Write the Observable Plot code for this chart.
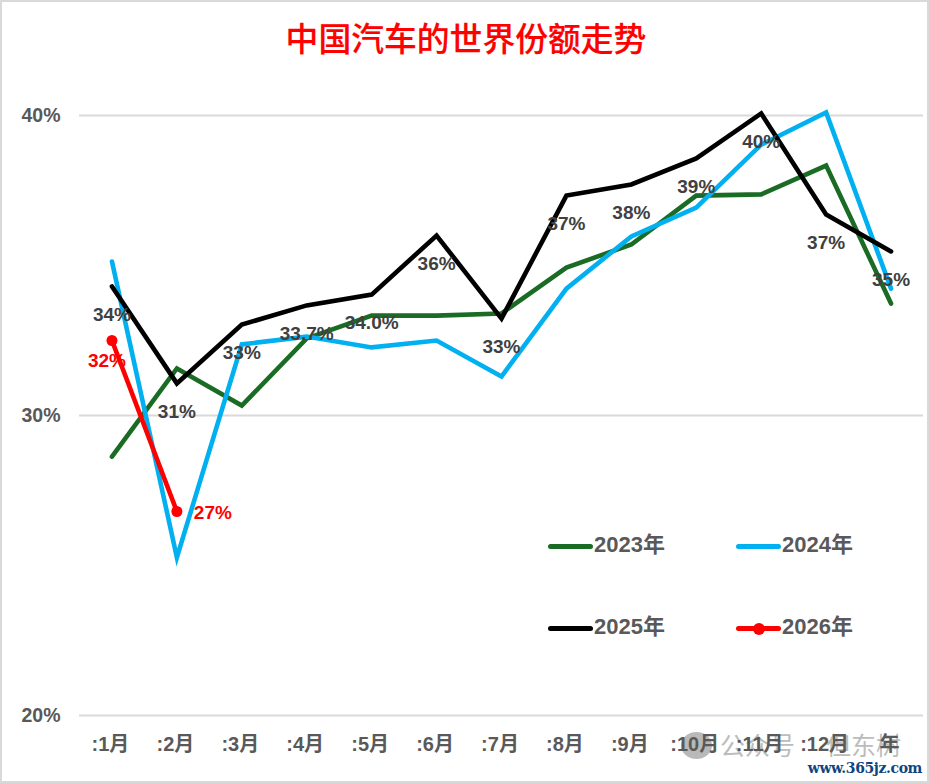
<!DOCTYPE html>
<html lang="zh">
<head>
<meta charset="utf-8">
<script src="https://cdn.jsdelivr.net/npm/d3@7"></script>
<script src="https://cdn.jsdelivr.net/npm/@observablehq/plot@0.6"></script>
<style>
  html, body { margin: 0; padding: 0; background: #fff; overflow: hidden; }
  #frame { position: relative; width: 929px; height: 783px; box-sizing: border-box; overflow: hidden; font-family: "Liberation Sans", "Noto Sans CJK SC", sans-serif; }
  #border { position: absolute; inset: 0; border: 2px solid #d9d9d9; box-sizing: border-box; pointer-events: none; }
  #title { position: absolute; left: 0; top: 0; width: 932px; height: 78px; line-height: 73px; text-align: center; color: #ff0000; font-size: 32.8px; font-weight: 500; -webkit-text-stroke: 0.2px #ff0000; font-family: "Noto Sans CJK SC", sans-serif; }
  #chart { position: absolute; left: 0; top: 78px; }
  .lg { position: absolute; font-size: 22px; font-weight: 700; color: #595959; line-height: 24px; height: 24px; white-space: nowrap; }
  .lg i { position: absolute; left: -46px; top: 11px; width: 45px; height: 5px; border-radius: 3px; }
  .lg b { position: absolute; left: -29px; top: 7.5px; width: 12px; height: 12px; border-radius: 50%; background: #ff0000; }
  .wm { position: absolute; top: 729px; font-size: 25px; color: #bcbcbc; font-family: "Noto Sans CJK SC", sans-serif; white-space: pre; line-height: 30px; }
  #dot { position: absolute; left: 681px; top: 732px; width: 31px; height: 27px; border-radius: 50%; background: #b9b9b9; }
  #url { position: absolute; right: 7px; top: 758px; font-size: 14px; font-weight: 700; color: #10457f; font-family: "DejaVu Serif", serif; letter-spacing: -0.4px; line-height: 20px; }
</style>
</head>
<body>
<div id="frame">
  <div id="title">中国汽车的世界份额走势</div>
  <div id="dot"></div>
  <div class="wm" style="left:720px">公众号</div>
  <div class="wm" style="left:826px">但东树</div>
  <div id="chart"></div>
  <div class="lg" style="left:594px;top:533px"><i style="background:#1a6b24"></i>2023年</div>
  <div class="lg" style="left:782px;top:533px"><i style="background:#00b0f0"></i>2024年</div>
  <div class="lg" style="left:594px;top:615px"><i style="background:#000"></i>2025年</div>
  <div class="lg" style="left:782px;top:615px"><i style="background:#ff0000"></i><b></b>2026年</div>
  <div id="url">www.365jz.com</div>
  <div id="border"></div>
</div>
<script>
const months = [":1月", ":2月", ":3月", ":4月", ":5月", ":6月", ":7月", ":8月", ":9月", ":10月", ":11月", ":12月", "年"];
const y2023 = [28.63, 31.57, 30.33, 32.57, 33.33, 33.33, 33.4, 34.93, 35.7, 37.33, 37.37, 38.33, 33.73];
const y2024 = [35.13, 25.27, 32.37, 32.63, 32.27, 32.5, 31.3, 34.23, 35.97, 36.93, 39.03, 40.1, 34.23];
const y2025 = [34.3, 31.07, 33.03, 33.67, 34.03, 36, 33.23, 37.33, 37.7, 38.57, 40.07, 36.7, 35.47];
const y2026 = [32.5, 26.8];
const labels2025 = ["34%", "31%", "33%", "33.7%", "34.0%", "36%", "33%", "37%", "38%", "39%", "40%", "37%", "35%"];
const labels2026 = ["32%", "27%"];

const toRows = (vals) => vals.map((v, i) => ({month: months[i], v, i}));
const lineOpts = (stroke) => ({x: "month", y: "v", stroke, strokeWidth: 4.6, strokeLinecap: "round", strokeLinejoin: "miter", strokeMiterlimit: 10, clip: false});
const font = "Liberation Sans, Noto Sans CJK SC, sans-serif";

const rows2025 = toRows(y2025);
const rows2026 = toRows(y2026);

const chart = Plot.plot({
  width: 929,
  height: 705,
  marginLeft: 79,
  marginRight: 6,
  marginTop: 37,
  marginBottom: 68,
  style: {background: "transparent", overflow: "visible"},
  x: {type: "point", domain: months, padding: 0.5, round: false, label: null, axis: null},
  y: {domain: [20, 40], label: null, axis: null},
  marks: [
    Plot.gridY([20, 30, 40], {stroke: "#d9d9d9", strokeOpacity: 1, strokeWidth: 2}),
    Plot.axisY([20, 30, 40], {tickSize: 0, tickPadding: 19, tickFormat: (d) => d + "%", label: null, fill: "#595959", fontSize: 19.5, fontWeight: 700, fontFamily: font}),
    Plot.axisX(months, {tickSize: 0, tickPadding: 21, dx: -1.5, label: null, fill: "#595959", fontSize: 20, fontWeight: 700, fontFamily: font}),
    Plot.line(toRows(y2023), lineOpts("#1a6b24")),
    Plot.line(toRows(y2024), lineOpts("#00b0f0")),
    Plot.line(rows2025, lineOpts("#000000")),
    Plot.line(rows2026, lineOpts("#ff0000")),
    Plot.dot(rows2026, {x: "month", y: "v", r: 5.5, fill: "#ff0000", stroke: "none"}),
    Plot.text(rows2025, {x: "month", y: "v", text: (d) => labels2025[d.i], dy: 28.5, fill: "#404040", fontSize: 19, fontWeight: 700, fontFamily: font}),
    Plot.text(rows2026.slice(0, 1), {x: "month", y: "v", text: (d) => labels2026[d.i], dx: -5, dy: 20.5, fill: "#ff0000", fontSize: 19, fontWeight: 700, fontFamily: font}),
    Plot.text(rows2026.slice(1), {x: "month", y: "v", text: (d) => labels2026[d.i], dx: 36, dy: 1, fill: "#ff0000", fontSize: 19, fontWeight: 700, fontFamily: font})
  ]
});
document.getElementById("chart").appendChild(chart);
</script>
</body>
</html>
